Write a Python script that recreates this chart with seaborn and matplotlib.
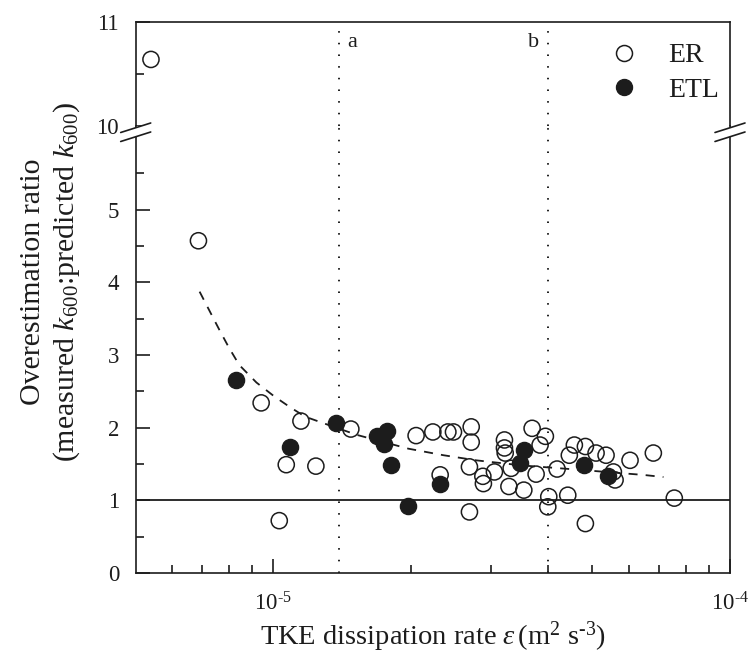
import numpy as np
import pandas as pd
import matplotlib
matplotlib.use("Agg")
import matplotlib.pyplot as plt
import seaborn as sns
from matplotlib.lines import Line2D
from matplotlib.patches import Polygon
from matplotlib.ticker import FixedLocator, NullFormatter, FixedFormatter

sns.set_theme(style="ticks")
plt.rcParams["font.family"] = ["Liberation Serif", "DejaVu Serif"]
plt.rcParams["mathtext.fontset"] = "custom"
plt.rcParams["mathtext.rm"] = "Liberation Serif"
plt.rcParams["mathtext.it"] = "Liberation Serif:italic"
plt.rcParams["mathtext.bf"] = "Liberation Serif:bold"

# ---------------- data (eps in units of 1e-5 m2 s-3) ----------------
er_eps = [0.540, 0.686, 0.941, 1.150, 1.068, 1.240, 1.031, 1.479, 2.055, 2.236,
          2.412, 2.481, 2.320, 2.713, 2.713, 2.689, 2.877, 2.885, 3.050, 3.208,
          3.208, 3.220, 3.281, 3.318, 3.537, 3.688, 3.763, 3.839, 3.943, 4.183,
          4.011, 3.991, 4.414, 4.563, 4.449, 4.824, 5.091, 5.354, 5.555, 5.603,
          6.042, 6.795, 7.552, 2.689, 4.824]
er_ratio = [10.64, 4.57, 2.34, 2.09, 1.49, 1.47, 0.72, 1.98, 1.89, 1.94,
            1.94, 1.94, 1.35, 2.01, 1.80, 1.46, 1.33, 1.23, 1.39, 1.83,
            1.72, 1.65, 1.19, 1.44, 1.14, 1.99, 1.36, 1.76, 1.88, 1.43,
            1.05, 0.91, 1.07, 1.76, 1.62, 1.74, 1.65, 1.62, 1.39, 1.28,
            1.55, 1.65, 1.03, 0.84, 0.68]

etl_eps = [0.827, 1.089, 1.374, 1.691, 1.774, 1.750, 1.810, 1.971, 2.320,
           3.548, 3.472, 4.800, 5.416]
etl_ratio = [2.65, 1.73, 2.07, 1.88, 1.95, 1.78, 1.49, 0.92, 1.23,
             1.69, 1.51, 1.49, 1.33]

fit_eps = [0.690, 0.729, 0.763, 0.800, 0.843, 0.919, 1.005, 1.089, 1.175, 1.289,
           1.524, 1.977, 2.359, 2.781, 3.500, 4.680, 5.600, 6.440, 7.150]
fit_ratio = [3.87, 3.58, 3.34, 3.10, 2.86, 2.62, 2.43, 2.28, 2.15, 2.06,
             1.90, 1.71, 1.62, 1.55, 1.48, 1.42, 1.38, 1.35, 1.32]

ref_lines = [1.39e-5, 4.0e-5]
ref_labels = ["a", "b"]
unity = 1.0
xtick_vals = [1e-5, 1e-4]
xtick_labels = [r"10$^{\text{-5}}$", r"10$^{\text{-4}}$"]

df_er = pd.DataFrame({"eps": np.array(er_eps) * 1e-5, "ratio": er_ratio})
df_etl = pd.DataFrame({"eps": np.array(etl_eps) * 1e-5, "ratio": etl_ratio})
df_fit = pd.DataFrame({"eps": np.array(fit_eps) * 1e-5, "ratio": fit_ratio})

# ---------------- layout ----------------
W, H = 752, 658
fig = plt.figure(figsize=(W / 100, H / 100), dpi=100)
fig.patch.set_facecolor("white")


def fx(px):
    return px / W


def fy(py):
    return 1 - py / H


L, R = 135.7, 730.0
Y_TOP, Y_BRK, Y_BOT = 22.0, 126.0, 573.0
ax_top = fig.add_axes([fx(L), fy(Y_BRK), fx(R) - fx(L), fy(Y_TOP) - fy(Y_BRK)])
ax_bot = fig.add_axes([fx(L), fy(Y_BOT), fx(R) - fx(L), fy(Y_BRK) - fy(Y_BOT)])

ink = "#1c1c1c"
for ax in (ax_top, ax_bot):
    ax.set_xscale("log")
    ax.set_xlim(5e-6, 1e-4)
    for s in ax.spines.values():
        s.set_linewidth(1.2)
        s.set_color(ink)
    ax.set_facecolor("white")

ax_bot.set_ylim(0, (Y_BOT - Y_BRK) / 72.7)
ax_top.set_ylim(10, 11)
ax_top.spines["bottom"].set_visible(False)
ax_bot.spines["top"].set_visible(False)

# data
for ax in (ax_top, ax_bot):
    for xv in ref_lines:
        ax.axvline(xv, color=ink, lw=1.4, linestyle=(0, (0.8, 5.2)), zorder=1)
ax_bot.axhline(unity, color=ink, lw=1.3, zorder=1)

sns.lineplot(data=df_fit, x="eps", y="ratio", ax=ax_bot, color=ink, lw=1.3,
             linestyle=(0, (5, 4.5)), sort=False, estimator=None, zorder=2)

for ax in (ax_top, ax_bot):
    sns.scatterplot(data=df_etl, x="eps", y="ratio", ax=ax, s=135, marker="o",
                    color=ink, edgecolor=ink, linewidth=1.0, zorder=3, legend=False)
    sns.scatterplot(data=df_er, x="eps", y="ratio", ax=ax, s=135, marker="o",
                    facecolor="none", edgecolor=ink, linewidth=1.1, zorder=4, legend=False)
    ax.set_xlabel("")
    ax.set_ylabel("")

# ticks
tick_kw = dict(direction="in", color=ink, labelcolor=ink, labelsize=16.5, width=1.2)
ax_bot.tick_params(axis="both", which="major", length=10, pad=12, **tick_kw)
ax_bot.tick_params(axis="both", which="minor", length=5.5, **tick_kw)
ax_bot.set_yticks([0, 1, 2, 3, 4, 5])
ax_bot.set_yticks(np.arange(0.5, 6.0, 1.0), minor=True)
ax_bot.xaxis.set_major_locator(FixedLocator(xtick_vals))
ax_bot.xaxis.set_major_formatter(FixedFormatter(xtick_labels))
ax_bot.xaxis.set_minor_locator(FixedLocator([6e-6, 7e-6, 8e-6, 9e-6] + [k * 1e-5 for k in range(2, 10)]))
ax_bot.xaxis.set_minor_formatter(NullFormatter())
ax_bot.tick_params(axis="x", which="major", pad=14)

ax_top.tick_params(axis="both", which="major", length=10, pad=12, **tick_kw)
ax_top.tick_params(axis="both", which="minor", length=5.5, **tick_kw)
ax_top.set_yticks([10, 11])
ax_top.set_yticks([10.5], minor=True)
ax_top.tick_params(axis="x", which="both", bottom=False, top=False, labelbottom=False)

# reference-line labels
ax_top.text(ref_lines[0] * 1.045, 10.8, ref_labels[0], fontsize=16, color=ink, ha="left", va="center")
ax_top.text(ref_lines[1] / 1.045, 10.8, ref_labels[1], fontsize=16, color=ink, ha="right", va="center")

# legend
handles = [
    Line2D([], [], ls="none", marker="o", ms=11.5, mfc="none", mec=ink, mew=1.1),
    Line2D([], [], ls="none", marker="o", ms=11.5, mfc=ink, mec=ink, mew=1.0),
]
leg = ax_top.legend(handles, ["ER", "ETL"], loc="upper right", frameon=False,
                    fontsize=20, handlelength=1.0, handletextpad=1.1, labelspacing=0.32,
                    borderpad=0.0, borderaxespad=0.0,
                    bbox_to_anchor=(fx(719), fy(43)), bbox_transform=fig.transFigure)
for t in leg.get_texts():
    t.set_color(ink)

# axis labels
fig.text(fx(433), fy(645), r"TKE dissipation rate $\varepsilon\,$(m$^{2}$ s$^{\text{-3}}$)",
         fontsize=20.5, color=ink, ha="center", va="baseline")
fig.text(fx(51), fy(282),
         "Overestimation ratio\n(measured $k_{600}$:predicted $k_{600}$)",
         fontsize=21.5, color=ink, ha="center", va="center", rotation=90,
         linespacing=1.2, multialignment="center")

# break marks
for xc in (L, R):
    x0, x1 = xc - 15, xc + 15
    poly = Polygon([(fx(x0), fy(132.5)), (fx(x1), fy(123.0)),
                    (fx(x1), fy(132.0)), (fx(x0), fy(141.5))],
                   closed=True, transform=fig.transFigure, fc="white", ec="none", zorder=10)
    fig.add_artist(poly)
    for (ya, yb) in ((132.5, 123.0), (141.5, 132.0)):
        fig.add_artist(Line2D([fx(x0), fx(x1)], [fy(ya), fy(yb)], transform=fig.transFigure,
                              color=ink, lw=1.2, zorder=11))

fig.savefig("out.png", dpi=100, facecolor="white")
